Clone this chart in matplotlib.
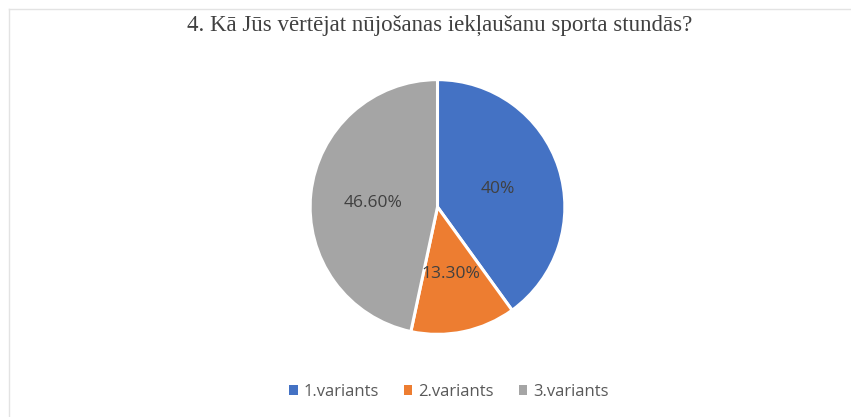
import matplotlib
matplotlib.use("Agg")
import matplotlib.pyplot as plt
import numpy as np
from matplotlib.patches import Patch
from matplotlib.lines import Line2D

title = "4. Kā Jūs vērtējat nūjošanas iekļaušanu sporta stundās?"
categories = ["1.variants", "2.variants", "3.variants"]
values = [40.0, 13.3, 46.6]
value_labels = ["40%", "13.30%", "46.60%"]
colors = ["#4472C4", "#ED7D31", "#A5A5A5"]

W, H = 851, 417
fig = plt.figure(figsize=(W / 100, H / 100), dpi=100)
fig.patch.set_facecolor("white")

# faint chart border (top and left)
fig.add_artist(Line2D([9 / W, 1], [1 - 9 / H, 1 - 9 / H], color="#e3e3e3", lw=1))
fig.add_artist(Line2D([9 / W, 9 / W], [0, 1 - 9 / H], color="#e3e3e3", lw=1))

cx, cy, r = 437.5, 207, 128
ax = fig.add_axes([(cx - r) / W, (H - cy - r) / H, 2 * r / W, 2 * r / H])
wedges, _ = ax.pie(values, colors=colors, startangle=90, counterclock=False,
                   radius=1, wedgeprops=dict(edgecolor="white", linewidth=2.2))
ax.set_xlim(-1.005, 1.005)
ax.set_ylim(-1.005, 1.005)
ax.set_aspect("equal")
ax.axis("off")

# data labels placed like Excel's best-fit
label_r = [0.49, 0.534, 0.505]
label_dang = [-1.4, -0.7, 2.4]
for w, lab, rr, da in zip(wedges, value_labels, label_r, label_dang):
    ang = np.deg2rad((w.theta1 + w.theta2) / 2 + da)
    ax.text(rr * np.cos(ang), rr * np.sin(ang), lab, ha="center", va="center",
            fontsize=12.5, color="#404040", family="Open Sans")

fig.text(440 / W, 1 - 25 / H, title, ha="center", va="center",
         fontsize=16.5, color="#404040", family="Liberation Serif")

handles = [Patch(facecolor=c, edgecolor="none") for c in colors]
fig.legend(handles, categories, loc="center", bbox_to_anchor=(449 / W, 1 - 392 / H),
           ncol=3, frameon=False, handlelength=0.5, handleheight=0.5,
           handletextpad=0.36, columnspacing=1.5,
           prop=dict(family="Open Sans", size=12), labelcolor="#595959")

fig.savefig("out.png", dpi=100, facecolor="white")
